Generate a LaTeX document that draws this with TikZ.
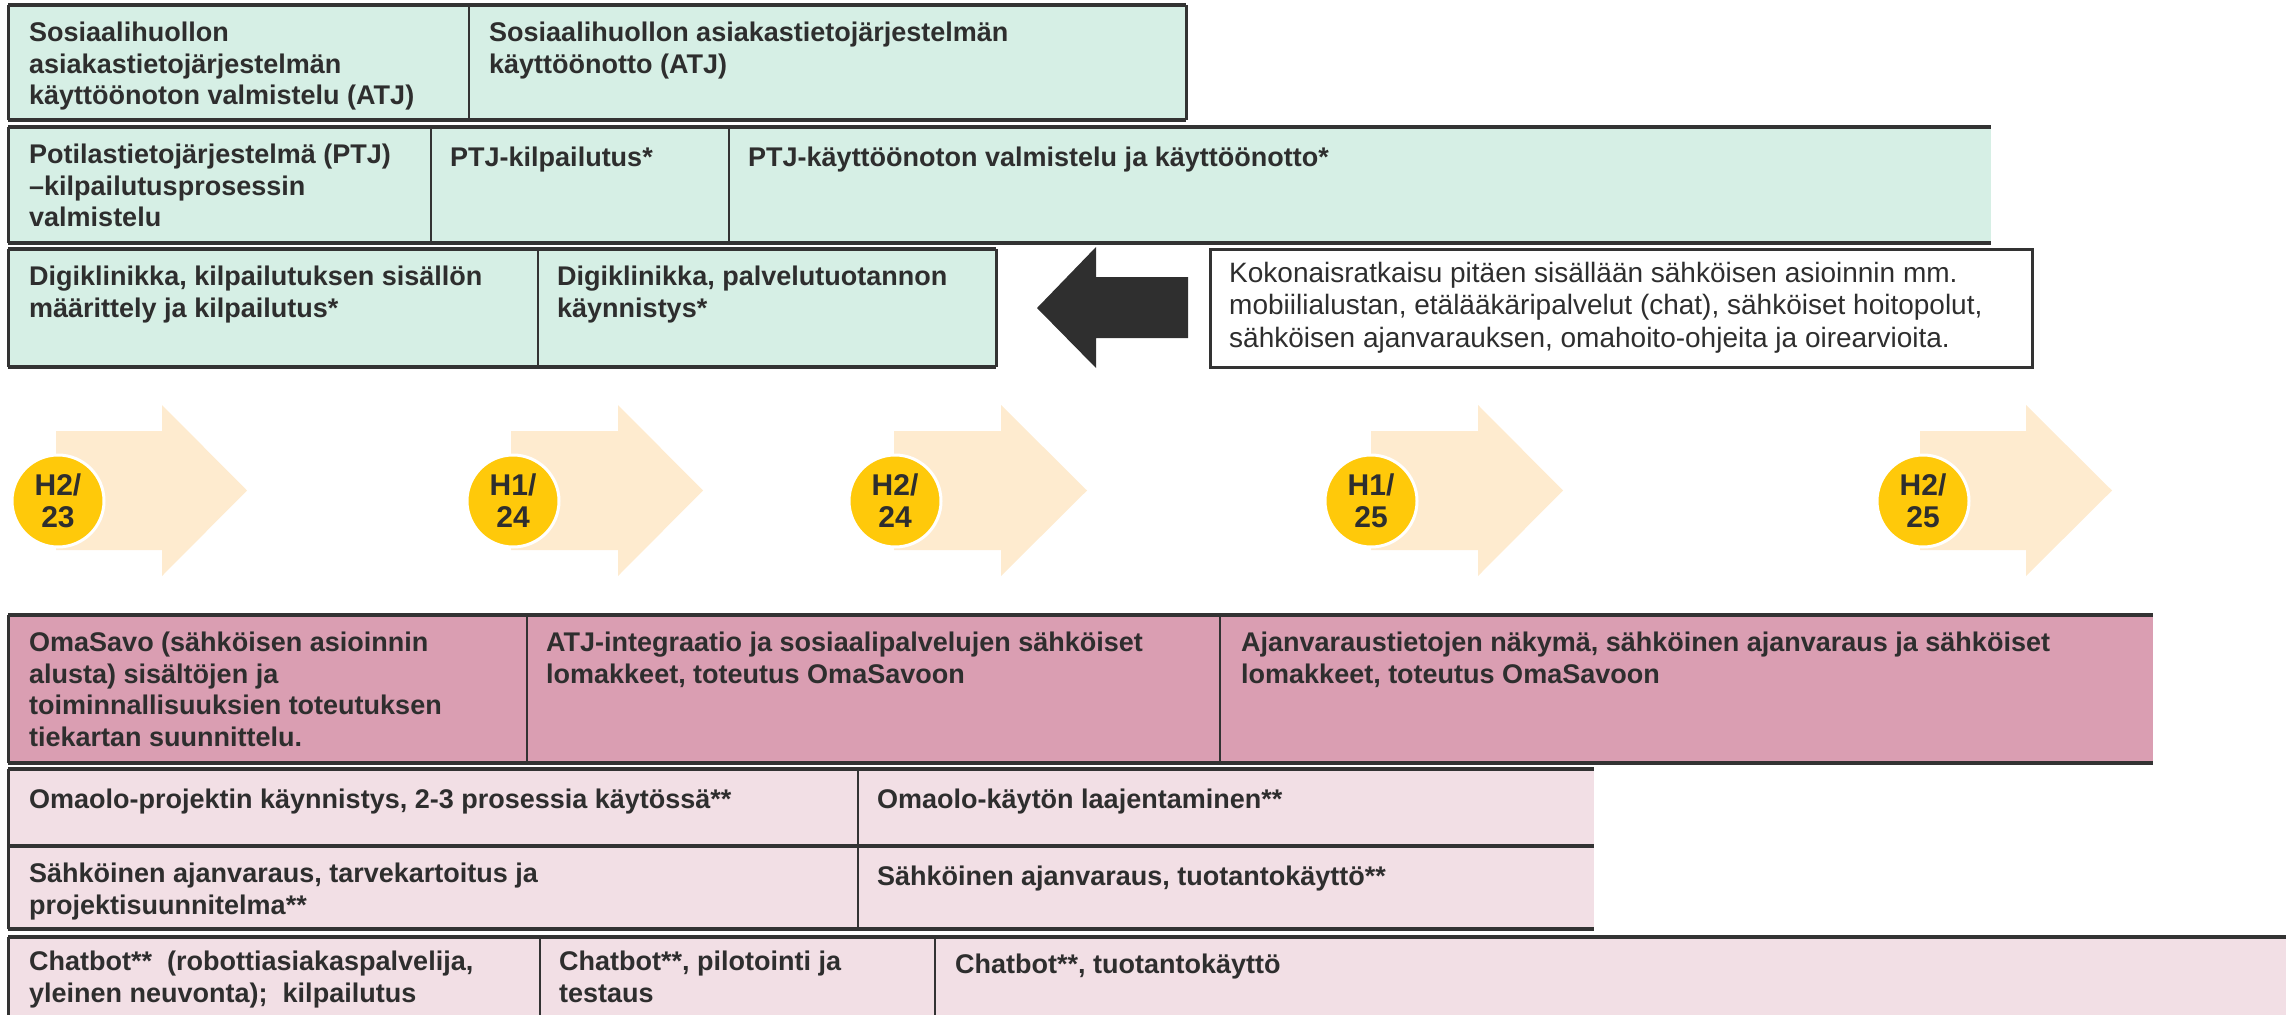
\documentclass[tikz,border=0pt]{standalone}
\usepackage{fontspec}
\setmainfont{Liberation Sans}
\definecolor{mint}{HTML}{D6EFE5}
\definecolor{rose}{HTML}{DA9EB2}
\definecolor{blush}{HTML}{F2DFE5}
\definecolor{peach}{HTML}{FEEBCF}
\definecolor{gold}{HTML}{FFC90A}
\definecolor{ink}{HTML}{2E2E2E}
\definecolor{edge}{HTML}{333333}
\definecolor{darkarrow}{HTML}{2F2F2F}
\begin{document}
\begin{tikzpicture}[x=1pt,y=-1pt,
  bt/.style={anchor=north west, inner sep=0pt, align=left, text=ink,
    font=\fontsize{27}{31.5}\selectfont\bfseries, execute at begin node=\strut},
  rt/.style={anchor=north west, inner sep=0pt, align=left, text=ink,
    font=\fontsize{28}{32.5}\selectfont, execute at begin node=\strut},
  hl/.style={draw=edge, line width=4pt},
  vl/.style={draw=edge, line width=2pt},
  sl/.style={draw=edge, line width=3pt},
  tarrow/.style={fill=peach},
  dot/.style={circle, fill=gold, draw=white, line width=3pt, minimum size=92pt,
    inner sep=0pt, text=ink, align=center, font=\fontsize{30}{32}\selectfont\bfseries}]
\useasboundingbox (0,0) rectangle (2292,1015);

% ---------- Row 1 : ATJ ----------
\fill[mint] (8,5) rectangle (1186,120);
\draw[sl] (8,5) -- (8,120) (1186,5) -- (1186,120);
\draw[hl] (8,5) -- (1186,5) (8,120) -- (1186,120);
\draw[vl] (469,5) -- (469,120);
\node[bt] (atj1) at (29,22) {Sosiaalihuollon\\asiakastietojärjestelmän\\käyttöönoton valmistelu (ATJ)};
\node[bt] (atj2) at (489,22) {Sosiaalihuollon asiakastietojärjestelmän\\käyttöönotto (ATJ)};

% ---------- Row 2 : PTJ ----------
\fill[mint] (8,127) rectangle (1991,243);
\draw[sl] (8,127) -- (8,243);
\draw[hl] (8,127) -- (1991,127) (8,243) -- (1991,243);
\draw[vl] (431,127) -- (431,243) (729,127) -- (729,243);
\node[bt] (ptj1) at (29,144) {Potilastietojärjestelmä (PTJ)\\–kilpailutusprosessin\\valmistelu};
\node[bt] (ptj2) at (450,144) {PTJ-kilpailutus*};
\node[bt] (ptj3) at (748,144) {PTJ-käyttöönoton valmistelu ja käyttöönotto*};

% ---------- Row 3 : Digiklinikka ----------
\fill[mint] (8,249) rectangle (996,367);
\draw[sl] (8,249) -- (8,367) (996,249) -- (996,367);
\draw[hl] (8,249) -- (996,249) (8,367) -- (996,367);
\draw[vl] (538,249) -- (538,367);
\node[bt] (dk1) at (29,266) {Digiklinikka, kilpailutuksen sisällön\\määrittely ja kilpailutus*};
\node[bt] (dk2) at (557,266) {Digiklinikka, palvelutuotannon\\käynnistys*};

% ---------- Black arrow + note ----------
\fill[darkarrow] (1188,277) -- (1096,277) -- (1096,247) -- (1037,308)
  -- (1096,368) -- (1096,338) -- (1188,338) -- cycle;
\draw[sl, fill=white] (1210,249) rectangle (2032,367);
\node[rt] (note) at (1229,262) {Kokonaisratkaisu pitäen sisällään sähköisen asioinnin mm.\\mobiilialustan, etälääkäripalvelut (chat), sähköiset hoitopolut,\\sähköisen ajanvarauksen, omahoito-ohjeita ja oirearvioita.};

% ---------- Timeline ----------
\foreach \bl/\hb/\tp in {56/162/247, 511/618/703, 894/1001/1087, 1371/1478/1563, 1920/2026/2112}{
  \fill[tarrow] (\bl,431) -- (\hb,431) -- (\hb,405) -- (\tp,490.5) -- (\hb,576) -- (\hb,550) -- (\bl,550) -- cycle;
}
\node[dot] (t1) at (58,501) {H2/\\23};
\node[dot] (t2) at (513,501) {H1/\\24};
\node[dot] (t3) at (895,501) {H2/\\24};
\node[dot] (t4) at (1371,501) {H1/\\25};
\node[dot] (t5) at (1923,501) {H2/\\25};

% ---------- Row 4 : OmaSavo ----------
\fill[rose] (8,615) rectangle (2153,763);
\draw[sl] (8,615) -- (8,763);
\draw[hl] (8,615) -- (2153,615) (8,763) -- (2153,763);
\draw[vl] (527,615) -- (527,763) (1220,615) -- (1220,763);
\node[bt] (os1) at (29,632) {OmaSavo (sähköisen asioinnin\\alusta) sisältöjen ja\\toiminnallisuuksien toteutuksen\\tiekartan suunnittelu.};
\node[bt] (os2) at (546,632) {ATJ-integraatio ja sosiaalipalvelujen sähköiset\\lomakkeet, toteutus OmaSavoon};
\node[bt] (os3) at (1241,632) {Ajanvaraustietojen näkymä, sähköinen ajanvaraus ja sähköiset\\lomakkeet, toteutus OmaSavoon};

% ---------- Row 5 : Omaolo / ajanvaraus ----------
\fill[blush] (8,769) rectangle (1594,929);
\draw[sl] (8,769) -- (8,929);
\draw[hl] (8,769) -- (1594,769) (8,846) -- (1594,846) (8,929) -- (1594,929);
\draw[vl] (858,769) -- (858,929);
\node[bt] (oo1) at (29,786) {Omaolo-projektin käynnistys, 2-3 prosessia käytössä**};
\node[bt] (oo2) at (877,786) {Omaolo-käytön laajentaminen**};
\node[bt] (aj1) at (29,863) {Sähköinen ajanvaraus, tarvekartoitus ja\\projektisuunnitelma**};
\node[bt] (aj2) at (877,863) {Sähköinen ajanvaraus, tuotantokäyttö**};

% ---------- Row 6 : Chatbot ----------
\fill[blush] (8,937) rectangle (2286,1015);
\draw[sl] (8,937) -- (8,1015);
\draw[hl] (8,937) -- (2286,937);
\draw[vl] (540,937) -- (540,1015) (935,937) -- (935,1015);
\node[bt] (cb1) at (29,951) {Chatbot**\ \ (robottiasiakaspalvelija,\\yleinen neuvonta);\ \ kilpailutus};
\node[bt] (cb2) at (559,951) {Chatbot**, pilotointi ja\\testaus};
\node[bt] (cb3) at (955,951) {Chatbot**, tuotantokäyttö};
\end{tikzpicture}
\end{document}
